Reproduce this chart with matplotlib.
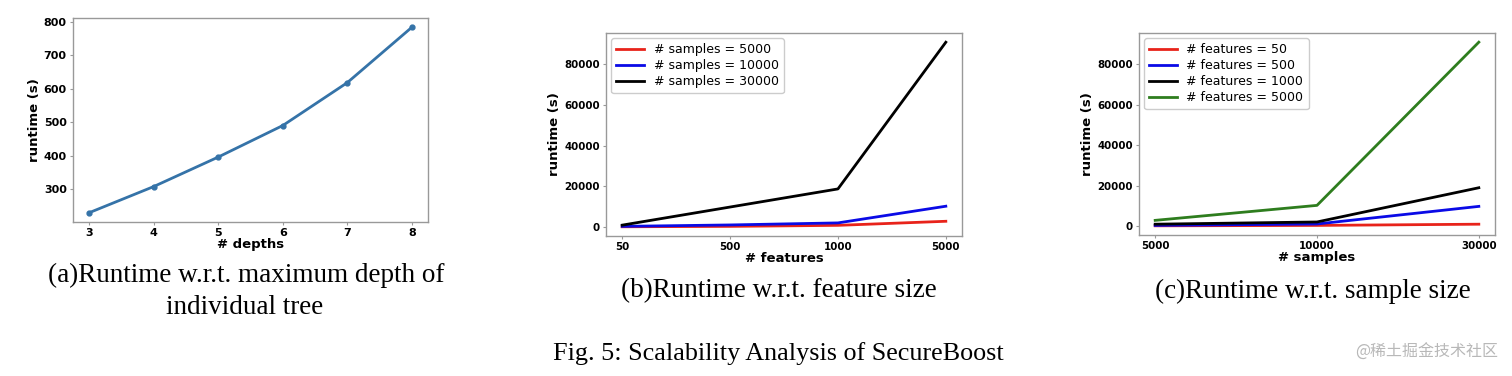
import numpy as np
import matplotlib
matplotlib.use("Agg")
import matplotlib.pyplot as plt

# (a) runtime vs tree depth
depths = [3, 4, 5, 6, 7, 8]
depth_runtime = [230, 308, 396, 490, 618, 783]

# (b) runtime vs feature size, one line per sample size
feature_labels = ["50", "500", "1000", "5000"]
samples_5000 = [100, 300, 800, 2800]
samples_10000 = [300, 1000, 2000, 10200]
samples_30000 = [900, 9800, 18700, 90800]

# (c) runtime vs sample size, one line per feature size
sample_labels = ["5000", "10000", "30000"]
features_50 = [100, 300, 900]
features_500 = [300, 1000, 9700]
features_1000 = [900, 2000, 18900]
features_5000 = [2800, 10200, 90800]

W, H = 1512, 376
fig = plt.figure(figsize=(W / 100, H / 100), dpi=100)


def box(l, t, r, b):
    return [l / W, 1 - b / H, (r - l) / W, (b - t) / H]


def style(ax, tsize):
    for s in ax.spines.values():
        s.set_color("#999999")
        s.set_linewidth(1.0)
    ax.tick_params(colors="#999999", labelcolor="black", length=2.5, width=0.8,
                   labelsize=tsize, pad=2)
    for lab in ax.get_xticklabels() + ax.get_yticklabels():
        lab.set_fontweight("bold")


# panel a
ax1 = fig.add_axes(box(73, 18, 428, 222))
ax1.plot(depths, depth_runtime, color="#3573a8", lw=2.0, marker="o", ms=3.5)
ax1.set_xticks(depths)
ax1.set_yticks([300, 400, 500, 600, 700, 800])
ax1.set_xlabel("# depths", fontsize=9.5, fontweight="bold", labelpad=0)
ax1.set_ylabel("runtime (s)", fontsize=9.5, fontweight="bold", labelpad=2)
style(ax1, 8)

# panel b
ax2 = fig.add_axes(box(606, 33, 962, 236))
xb = np.arange(len(feature_labels))
ax2.plot(xb, samples_5000, color="#e8231a", lw=2.0, label="# samples = 5000")
ax2.plot(xb, samples_10000, color="#0a0ae6", lw=2.0, label="# samples = 10000")
ax2.plot(xb, samples_30000, color="black", lw=2.0, label="# samples = 30000")
ax2.set_xticks(xb)
ax2.set_xticklabels(feature_labels)
ax2.set_yticks([0, 20000, 40000, 60000, 80000])
ax2.set_xlabel("# features", fontsize=9.5, fontweight="bold", labelpad=0)
ax2.set_ylabel("runtime (s)", fontsize=9.5, fontweight="bold", labelpad=2)
ax2.legend(loc="upper left", fontsize=9, framealpha=1, edgecolor="#cccccc",
           borderaxespad=0.4, handlelength=2.2, labelspacing=0.25)
style(ax2, 7.4)

# panel c
ax3 = fig.add_axes(box(1139, 33, 1495, 235))
xc = np.arange(len(sample_labels))
ax3.plot(xc, features_50, color="#e8231a", lw=2.0, label="# features = 50")
ax3.plot(xc, features_500, color="#0a0ae6", lw=2.0, label="# features = 500")
ax3.plot(xc, features_1000, color="black", lw=2.0, label="# features = 1000")
ax3.plot(xc, features_5000, color="#2e7d1e", lw=2.0, label="# features = 5000")
ax3.set_xticks(xc)
ax3.set_xticklabels(sample_labels)
ax3.set_yticks([0, 20000, 40000, 60000, 80000])
ax3.set_xlabel("# samples", fontsize=9.5, fontweight="bold", labelpad=0)
ax3.set_ylabel("runtime (s)", fontsize=9.5, fontweight="bold", labelpad=2)
ax3.legend(loc="upper left", fontsize=9, framealpha=1, edgecolor="#cccccc",
           borderaxespad=0.4, handlelength=2.2, labelspacing=0.25)
style(ax3, 7.4)

# captions
serif = dict(family="Liberation Serif", fontsize=19.5, ha="center", va="center")
fig.text(246 / W, 1 - 275 / H, "(a)Runtime w.r.t. maximum depth of", **serif)
fig.text(245 / W, 1 - 308 / H, "individual tree", **serif)
fig.text(779 / W, 1 - 291 / H, "(b)Runtime w.r.t. feature size", **serif)
fig.text(1313 / W, 1 - 291 / H, "(c)Runtime w.r.t. sample size", **serif)
fig.text(778 / W, 1 - 354 / H, "Fig. 5: Scalability Analysis of SecureBoost",
         family="Liberation Serif", fontsize=18.8, ha="center", va="center")
fig.text(1427 / W, 1 - 352 / H, "@稀土掘金技术社区", family=["Noto Sans CJK SC", "DejaVu Sans"],
         fontsize=11.5, color="#b8b8b8", ha="center", va="center")

fig.savefig("out.png", dpi=100)
